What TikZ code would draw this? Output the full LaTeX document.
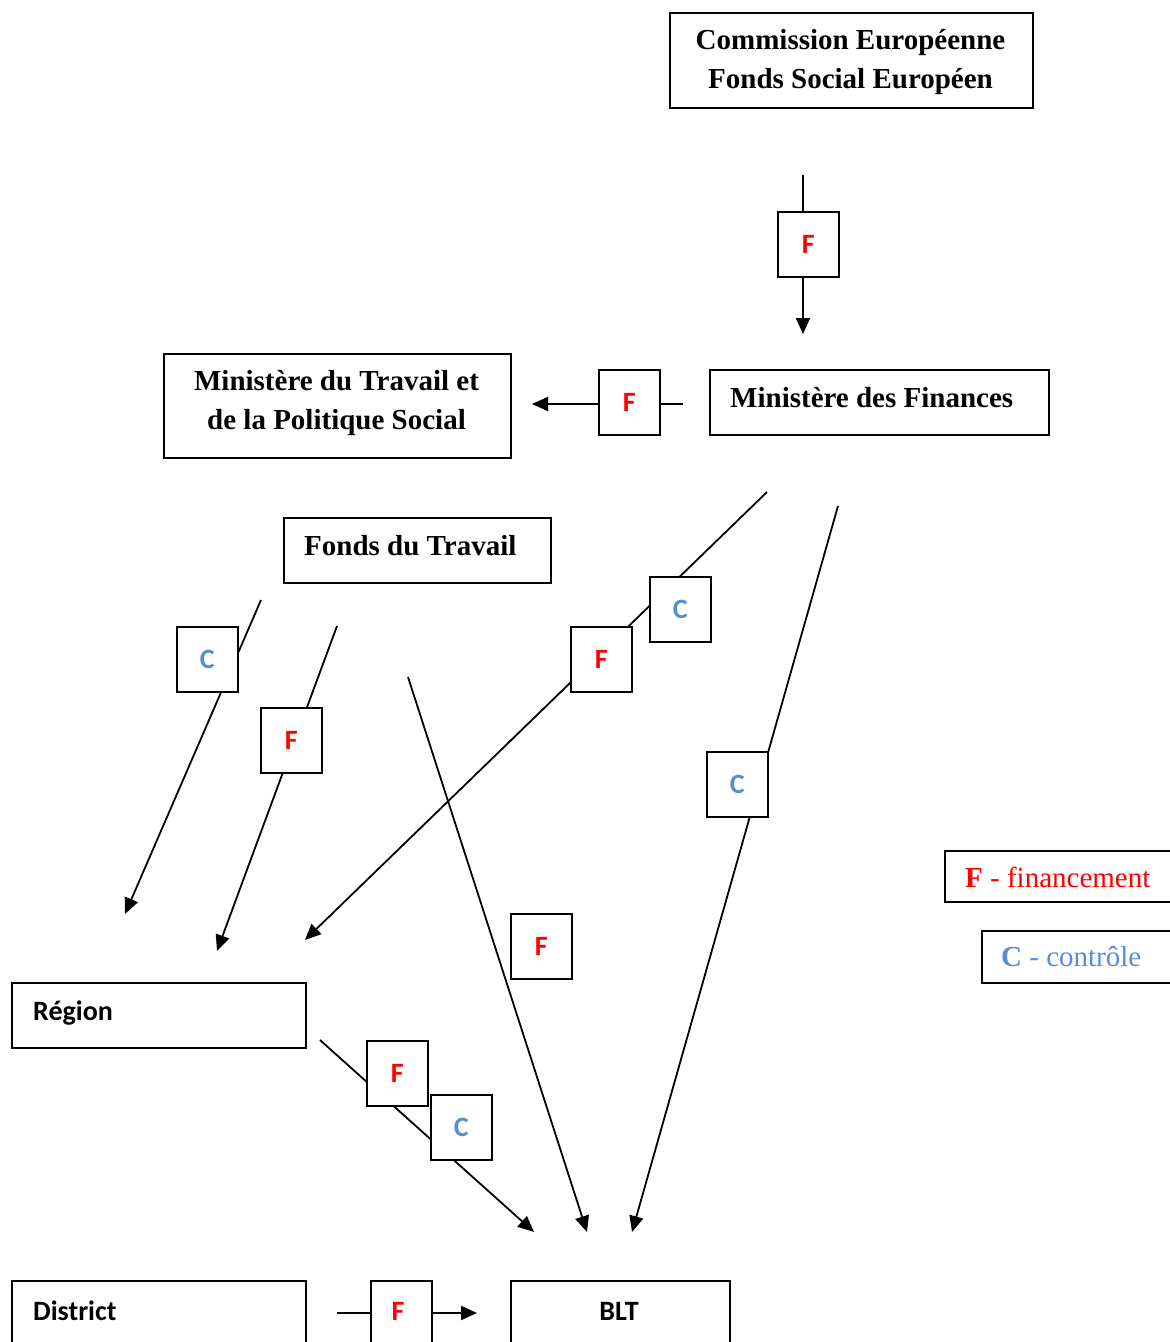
\documentclass[tikz,border=0pt]{standalone}
\usepackage{fontspec}
\setmainfont{Liberation Serif}
\newfontfamily\calfont{Carlito}
\usetikzlibrary{arrows.meta}
\definecolor{fred}{RGB}{255,0,0}
\definecolor{cblue}{RGB}{85,142,213}
\begin{document}
\begin{tikzpicture}[x=1pt,y=-1pt,
  box/.style={draw, line width=1.8pt, fill=white, inner sep=0pt, anchor=north west},
  bigtxt/.style={font=\fontsize{29}{39}\selectfont\bfseries, align=center},
  lbl/.style={box, minimum width=61pt, minimum height=65pt},
  flbl/.style={lbl, text=fred, font=\calfont\fontsize{28}{30}\selectfont\bfseries},
  clbl/.style={lbl, text=cblue, font=\calfont\fontsize{28}{30}\selectfont\bfseries},
  caltxt/.style={font=\calfont\fontsize{28}{30}\selectfont\bfseries, inner sep=0pt},
  conn/.style={line width=1.8pt},
  arr/.style={conn, -{Triangle[length=16pt,width=14pt]}},
]
\useasboundingbox (0,0) rectangle (1170,1342);
\clip (0,0) rectangle (1170,1342);

% connector end points
\coordinate (s1) at (803,175);  \coordinate (e1) at (803,334);
\coordinate (s2) at (683,404);  \coordinate (e2) at (532,404);
\coordinate (s3) at (767,492);  \coordinate (e3) at (305,940);
\coordinate (s4) at (838,506);  \coordinate (e4) at (632,1232);
\coordinate (s5) at (261,600);  \coordinate (e5) at (125,914);
\coordinate (s6) at (337,626);  \coordinate (e6) at (217,951);
\coordinate (s7) at (408,677);  \coordinate (e7) at (587,1232);
\coordinate (s8) at (320,1040); \coordinate (e8) at (534,1232);
\coordinate (s9) at (337,1313); \coordinate (e9) at (477,1313);

% connectors (drawn below the label boxes)
\draw[arr] (s1) -- (e1);
\draw[arr] (s2) -- (e2);
\draw[arr] (s3) -- (e3);
\draw[arr] (s4) -- (e4);
\draw[arr] (s5) -- (e5);
\draw[arr] (s6) -- (e6);
\draw[arr] (s7) -- (e7);
\draw[arr] (s8) -- (e8);
\draw[arr] (s9) -- (e9);

% main boxes
\node[box, minimum width=363pt, minimum height=95pt] (ce) at (669,12) {};
\node[bigtxt, inner sep=0pt] (cet) at (850.5,62.5) {Commission Européenne\\Fonds Social Européen};
\node[box, minimum width=339pt, minimum height=65pt] (mf) at (709,369) {};
\node[bigtxt, inner sep=0pt, anchor=base west] (mft) at (730,407) {Ministère des Finances};
\node[box, minimum width=347pt, minimum height=104pt] (mt) at (163,353) {};
\node[bigtxt, inner sep=0pt] (mtt) at (336.5,403) {Ministère du Travail et\\de la Politique Social};
\node[box, minimum width=267pt, minimum height=65pt] (ft) at (283,517) {};
\node[bigtxt, inner sep=0pt, anchor=base west] (ftt) at (304,555) {Fonds du Travail};
\node[box, minimum width=294pt, minimum height=65pt] (reg) at (11,982) {};
\node[caltxt, anchor=west] (regt) at (33,1013) {Région};
\node[box, minimum width=294pt, minimum height=90pt] (dis) at (11,1280) {};
\node[caltxt, anchor=west] (dist) at (33,1311) {District};
\node[box, minimum width=219pt, minimum height=90pt] (blt) at (510,1280) {};
\node[caltxt] (bltt) at (619,1311) {BLT};

% label boxes
\node[flbl] (f1) at (777,211) {F};
\node[flbl] (f2) at (598,369) {F};
\node[clbl] (c3) at (649,576) {C};
\node[flbl] (f3) at (570,626) {F};
\node[clbl] (c4) at (706,751) {C};
\node[clbl] (c5) at (176,626) {C};
\node[flbl] (f6) at (260,707) {F};
\node[flbl] (f7) at (510,913) {F};
\node[flbl] (f8) at (366,1040) {F};
\node[clbl] (c8) at (430,1094) {C};
\node[box, minimum width=61pt, minimum height=90pt] (f9) at (370,1280) {};
\node[caltxt, text=fred] (f9t) at (398,1311) {F};

% legend
\node[box, minimum width=260pt, minimum height=51pt] (lf) at (944,850) {};
\node[anchor=west, inner sep=0pt, text=fred, font=\fontsize{29}{35}\selectfont] (lft) at (965,877)
  {\textbf{F} - financement};
\node[box, minimum width=220pt, minimum height=52pt] (lc) at (981,930) {};
\node[anchor=west, inner sep=0pt, text=cblue, font=\fontsize{29}{35}\selectfont] (lct) at (1001,957)
  {\textbf{C} - contrôle};
\end{tikzpicture}
\end{document}
